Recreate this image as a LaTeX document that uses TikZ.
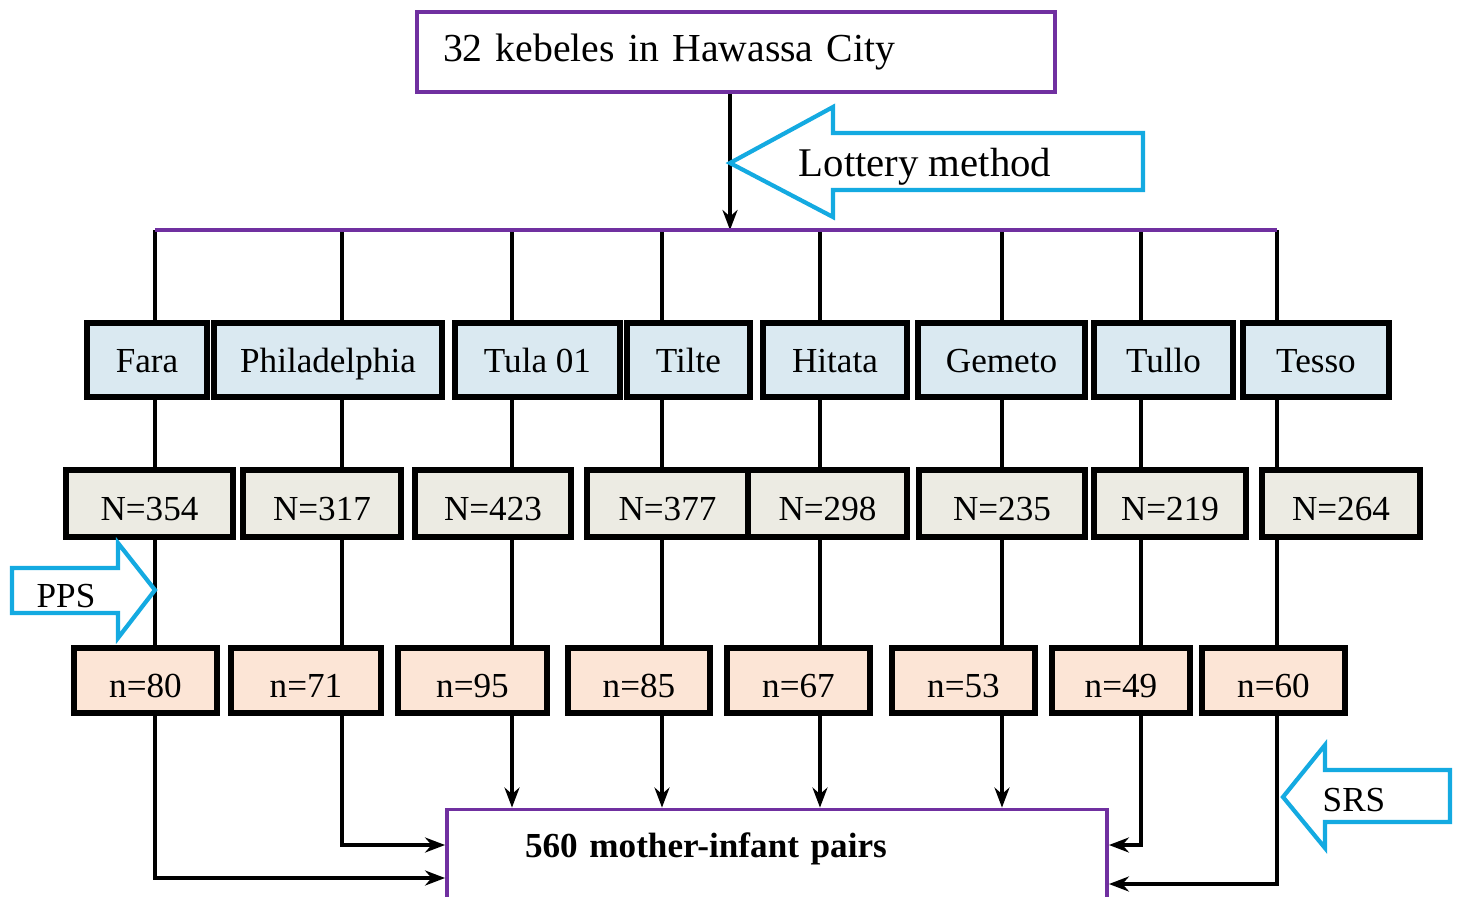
\documentclass[tikz,border=0pt]{standalone}
\usepackage{fontspec}
\setmainfont{Liberation Serif}
\usepackage{tikz}
\usetikzlibrary{positioning}
\usetikzlibrary{calc}
\usetikzlibrary{arrows.meta}

\definecolor{kebblue}{RGB}{218,233,241}
\definecolor{popgrey}{RGB}{236,235,227}
\definecolor{smppeach}{RGB}{252,229,214}
\definecolor{linepurple}{RGB}{112,48,160}
\definecolor{arrowblue}{RGB}{20,170,225}

\tikzset{
  kebbox/.style={draw=black, line width=1.7pt, fill=kebblue, inner sep=0pt, minimum height=7.4mm, text height=3.2mm, text depth=0.8mm, font=\fontsize{10}{12}\selectfont},
  popbox/.style={draw=black, line width=1.7pt, fill=popgrey, inner sep=0pt, minimum height=6.7mm, text height=4.1mm, text depth=0.8mm, font=\fontsize{10}{12}\selectfont},
  smpbox/.style={draw=black, line width=1.7pt, fill=smppeach, inner sep=0pt, minimum height=6.5mm, text height=4.1mm, text depth=0.8mm, font=\fontsize{10}{12}\selectfont},
  purplebox/.style={draw=linepurple, line width=1.1pt, fill=white, inner ysep=0pt},
  link/.style={line width=1.1pt, >={Stealth[length=2mm,width=1.5mm]}},
  blockarrow/.style={draw=arrowblue, line width=1.2pt, fill=white}
}

\begin{document}
\begin{tikzpicture}[x=0.1mm, y=-0.1mm]
\useasboundingbox (0,0) rectangle (1461,896);

% top box
\node[purplebox, minimum width=63.8mm, minimum height=8mm, text width=58.6mm, inner xsep=2.6mm, align=left, font=\fontsize{11.3}{13}\selectfont] (city) at (736,52) {32 kebeles in Hawassa City};
\coordinate (split) at (730,230);

% kebeles
\node[kebbox, minimum width=12.0mm] (kebA) at (147,360) {Fara};
\node[kebbox, minimum width=22.8mm] (kebB) at (328,360) {Philadelphia};
\node[kebbox, minimum width=16.5mm] (kebC) at (537.5,360) {Tula 01};
\node[kebbox, minimum width=12.3mm] (kebD) at (688.5,360) {Tilte};
\node[kebbox, minimum width=14.4mm] (kebE) at (835,360) {Hitata};
\node[kebbox, minimum width=16.7mm] (kebF) at (1001.5,360) {Gemeto};
\node[kebbox, minimum width=13.9mm] (kebG) at (1163.5,360) {Tullo};
\node[kebbox, minimum width=14.6mm] (kebH) at (1316,360) {Tesso};

% population
\node[popbox, minimum width=16.7mm] (popA) at (149.5,503.5) {N=354};
\node[popbox, minimum width=15.8mm] (popB) at (322,503.5) {N=317};
\node[popbox, minimum width=15.6mm] (popC) at (493,503.5) {N=423};
\node[popbox, minimum width=16.1mm] (popD) at (667.5,503.5) {N=377};
\node[popbox, minimum width=15.9mm] (popE) at (827.5,503.5) {N=298};
\node[popbox, minimum width=16.6mm] (popF) at (1002,503.5) {N=235};
\node[popbox, minimum width=15.2mm] (popG) at (1170,503.5) {N=219};
\node[popbox, minimum width=15.8mm] (popH) at (1341,503.5) {N=264};

% sample
\node[smpbox, minimum width=14.3mm] (smpA) at (145.5,680.5) {n=80};
\node[smpbox, minimum width=15.0mm] (smpB) at (306,680.5) {n=71};
\node[smpbox, minimum width=14.9mm] (smpC) at (472.5,680.5) {n=95};
\node[smpbox, minimum width=14.2mm] (smpD) at (639,680.5) {n=85};
\node[smpbox, minimum width=14.3mm] (smpE) at (798.5,680.5) {n=67};
\node[smpbox, minimum width=14.3mm] (smpF) at (963.5,680.5) {n=53};
\node[smpbox, minimum width=13.8mm] (smpG) at (1121,680.5) {n=49};
\node[smpbox, minimum width=14.3mm] (smpH) at (1273.5,680.5) {n=60};

% total
\node[purplebox, minimum width=66mm, minimum height=9.5mm, text width=50.4mm, inner xsep=7.8mm, text height=3mm, text depth=3mm, align=left, font=\bfseries\fontsize{10}{12}\selectfont] (pairs) at (777,857) {560 mother-infant pairs};

% connectors
\draw[link,->] (city.south -| split) -- (split);
\foreach \k/\xx in {A/155,B/342,C/512,D/662,E/820,F/1002,G/1141,H/1277} {
  \coordinate (top\k) at (\xx,230);
  \draw[link] (top\k) -- (top\k |- keb\k.north);
  \draw[link] (keb\k.south -| top\k) -- (pop\k.north -| top\k);
  \draw[link] (pop\k.south -| top\k) -- (smp\k.north -| top\k);
}
\draw[linepurple, line width=1.2pt] (topA) -- (topH);
\foreach \k in {C,D,E,F}
  \draw[link,->] (smp\k.south -| top\k) -- (pairs.north -| top\k);
\draw[link,->] (smpA.south -| topA) |- ([yshift=-2.1mm]pairs.west);
\draw[link,->] (smpB.south -| topB) |- ([yshift=1.2mm]pairs.west);
\draw[link,->] (smpG.south -| topG) |- ([yshift=1.2mm]pairs.east);
\draw[link,->] (smpH.south -| topH) |- ([yshift=-2.7mm]pairs.east);

% block arrows
\filldraw[blockarrow] (730,163) -- (833,107) -- (833,133) -- (1143,133) -- (1143,190) -- (833,190) -- (833,217) -- cycle;
\node[font=\fontsize{11.6}{13}\selectfont] (lottery) at (925,167) {Lottery method};
\filldraw[blockarrow] (155,590) -- (118,543) -- (118,568) -- (12,568) -- (12,613) -- (118,613) -- (118,638) -- cycle;
\node[font=\fontsize{10}{12}\selectfont] (pps) at (66,596) {PPS};
\filldraw[blockarrow] (1283,797) -- (1325,745) -- (1325,770) -- (1450,770) -- (1450,822) -- (1325,822) -- (1325,848) -- cycle;
\node[font=\fontsize{10}{12}\selectfont] (srs) at (1354,800) {SRS};
\end{tikzpicture}
\end{document}
